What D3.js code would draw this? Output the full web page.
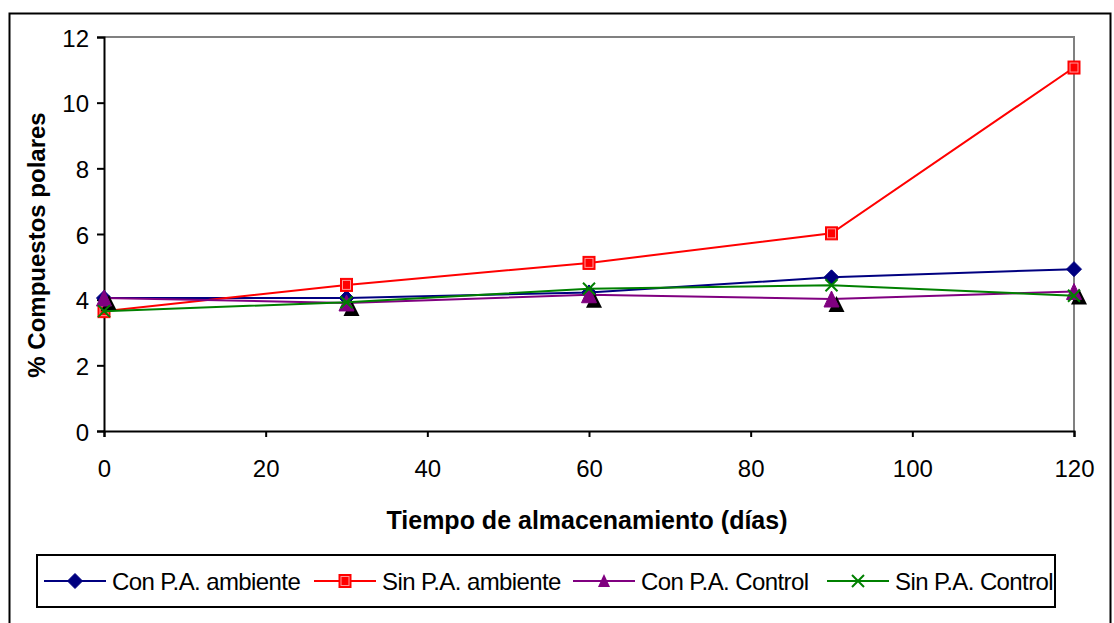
<!DOCTYPE html>
<html>
<head>
<meta charset="utf-8">
<script src="https://cdn.jsdelivr.net/npm/d3@7"></script>
<style>
  html, body { margin: 0; padding: 0; background: #fff; }
  svg { display: block; font-family: "Liberation Sans", Arial, sans-serif; }
</style>
</head>
<body>
<svg id="chart" width="1114" height="623"></svg>
<script>
// Storage days at which polar compounds were measured
const days = [0, 30, 60, 90, 120];

// % polar compounds per treatment
const conPAAmbiente = [4.05, 4.05, 4.22, 4.68, 4.93];
const sinPAAmbiente = [3.65, 4.45, 5.12, 6.02, 11.07];
const conPAControl  = [4.05, 3.9, 4.15, 4.02, 4.25];
const sinPAControl  = [3.65, 3.92, 4.33, 4.44, 4.12];

const seriesNames  = ["Con P.A. ambiente", "Sin P.A. ambiente", "Con P.A. Control", "Sin P.A. Control"];
const seriesValues = [conPAAmbiente, sinPAAmbiente, conPAControl, sinPAControl];
const seriesColors = ["#000080", "#ff0000", "#800080", "#008000"];
const seriesMarkers = ["diamond", "square", "triangle", "cross"];

const xTicks = [0, 20, 40, 60, 80, 100, 120];
const yTicks = [0, 2, 4, 6, 8, 10, 12];

const svg = d3.select("#chart");

// outer chart frame
svg.append("rect")
  .attr("x", 9.5).attr("y", 13.5)
  .attr("width", 1101).attr("height", 620)
  .attr("fill", "#fff").attr("stroke", "#000").attr("stroke-width", 2);

const plot = { left: 104, right: 1074, top: 37, bottom: 431 };

const x = d3.scaleLinear().domain([0, 120]).range([plot.left, plot.right]);
const y = d3.scaleLinear().domain([0, 12]).range([plot.bottom, plot.top]);

// plot area border (top and right in grey)
svg.append("path")
  .attr("d", `M${plot.left},${plot.top}H${plot.right}V${plot.bottom}`)
  .attr("fill", "none").attr("stroke", "#808080").attr("stroke-width", 2);

// axes
const yAxis = d3.axisLeft(y).tickValues(yTicks).tickSize(7).tickPadding(8).tickFormat(d3.format("d"));
const xAxis = d3.axisBottom(x).tickValues(xTicks).tickSize(6).tickPadding(28).tickFormat(d3.format("d"));

const gy = svg.append("g").attr("transform", `translate(${plot.left},0)`).call(yAxis);
const gx = svg.append("g").attr("transform", `translate(0,${plot.bottom})`).call(xAxis);
[gx, gy].forEach(g => {
  g.select(".domain").attr("stroke", "#000").attr("stroke-width", 2);
  g.selectAll(".tick line").attr("stroke", "#000").attr("stroke-width", 2);
  g.selectAll(".tick text").attr("fill", "#000")
    .style("font-size", "24px").style("font-family", "Liberation Sans, Arial, sans-serif");
});
gy.selectAll(".tick text").attr("dy", "0.38em");
gx.selectAll(".tick text").attr("dy", "0.5em");

// axis titles
svg.append("text")
  .attr("x", (plot.left + plot.right) / 2 - 2).attr("y", 529)
  .attr("text-anchor", "middle")
  .style("font-size", "25px").style("font-weight", "bold")
  .text("Tiempo de almacenamiento (días)");

svg.append("text")
  .attr("transform", `translate(45,${245}) rotate(-90)`)
  .attr("text-anchor", "middle")
  .style("font-size", "24px").style("font-weight", "bold")
  .text("% Compuestos polares");

// marker drawing
function drawMarker(g, type, cx, cy, color) {
  if (type === "diamond") {
    g.append("path")
      .attr("d", `M${cx},${cy - 7.5}L${cx + 7.5},${cy}L${cx},${cy + 7.5}L${cx - 7.5},${cy}Z`)
      .attr("fill", color).attr("stroke", color).attr("stroke-width", 1);
  } else if (type === "square") {
    g.append("rect")
      .attr("x", cx - 6).attr("y", cy - 6.5).attr("width", 12).attr("height", 13)
      .attr("fill", color).attr("stroke", color).attr("stroke-width", 1);
    g.append("rect")
      .attr("x", cx - 4).attr("y", cy - 4.5).attr("width", 8).attr("height", 9)
      .attr("fill", "none").attr("stroke", "#ff9a9a").attr("stroke-width", 1);
  } else if (type === "triangle") {
    g.append("path")
      .attr("d", `M${cx + 5},${cy - 3}L${cx + 13},${cy + 13}L${cx - 3},${cy + 13}Z`)
      .attr("fill", "#000");
    g.append("path")
      .attr("d", `M${cx},${cy - 8}L${cx + 7.5},${cy + 8}L${cx - 7.5},${cy + 8}Z`)
      .attr("fill", color).attr("stroke", color).attr("stroke-width", 1);
  } else if (type === "cross") {
    g.append("path")
      .attr("d", `M${cx - 6},${cy - 6}L${cx + 6},${cy + 6}M${cx + 6},${cy - 6}L${cx - 6},${cy + 6}`)
      .attr("stroke", color).attr("stroke-width", 2).attr("fill", "none");
  }
}

const line = d3.line().x((d, i) => x(days[i])).y(d => y(d));

seriesValues.forEach((vals, s) => {
  const g = svg.append("g");
  g.append("path")
    .datum(vals)
    .attr("d", line)
    .attr("fill", "none")
    .attr("stroke", seriesColors[s])
    .attr("stroke-width", 2);
  vals.forEach((v, i) => drawMarker(g, seriesMarkers[s], x(days[i]), y(v), seriesColors[s]));
});

// legend
svg.append("rect")
  .attr("x", 37).attr("y", 555).attr("width", 1018).attr("height", 52)
  .attr("fill", "#fff").attr("stroke", "#000").attr("stroke-width", 2);

const legendTextX = [112, 382, 641, 895];
const legendY = 581;
seriesNames.forEach((name, s) => {
  const g = svg.append("g");
  const lx = legendTextX[s] - 68;
  g.append("line")
    .attr("x1", lx).attr("x2", lx + 62)
    .attr("y1", legendY).attr("y2", legendY)
    .attr("stroke", seriesColors[s]).attr("stroke-width", 2);
  if (seriesMarkers[s] === "triangle") {
    g.append("path")
      .attr("d", `M${lx + 31},${legendY - 7}L${lx + 37},${legendY + 6}L${lx + 25},${legendY + 6}Z`)
      .attr("fill", seriesColors[s]);
  } else {
    drawMarker(g, seriesMarkers[s], lx + 31, legendY, seriesColors[s]);
  }
  g.append("text")
    .attr("x", legendTextX[s]).attr("y", legendY + 9)
    .style("font-size", "24px")
    .style("letter-spacing", "-0.6px")
    .text(name);
});
</script>
</body>
</html>
